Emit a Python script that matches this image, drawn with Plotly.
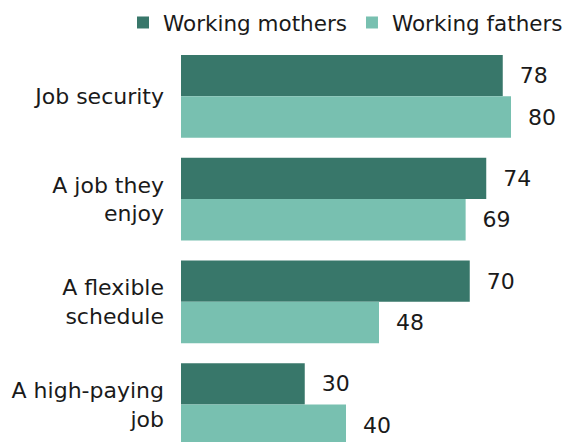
import plotly.graph_objects as go

categories = ["Job security", "A job they<br>enjoy", "A flexible<br>schedule", "A high-paying<br>job"]
mothers = [78, 74, 70, 30]
fathers = [80, 69, 48, 40]

DARK = "#38776a"
LIGHT = "#78c0b0"
FONT = "DejaVu Sans"
TXT = "#1a1a1a"
SIZE = 22

fig = go.Figure()
for name, vals, col in [("Working mothers", mothers, DARK), ("Working fathers", fathers, LIGHT)]:
    fig.add_trace(go.Bar(
        y=categories, x=vals, name=name, orientation="h",
        marker=dict(color=col, line=dict(width=0)),
        text=vals, texttemplate="  %{x}", textposition="outside",
        textfont=dict(family=FONT, size=SIZE, color=TXT), cliponaxis=False,
    ))

fig.update_layout(
    width=565, height=442,
    margin=dict(l=181, r=0, t=45, b=0, autoexpand=False),
    paper_bgcolor="white", plot_bgcolor="white",
    barmode="group", bargap=0.194, bargroupgap=0,
    font=dict(family=FONT, size=SIZE, color=TXT),
    showlegend=True,
    legend=dict(orientation="h", x=-0.151, xanchor="left", y=1.005, yanchor="bottom",
                font=dict(family=FONT, size=21.5, color=TXT),
                itemwidth=30, traceorder="normal"),
)
fig.update_xaxes(range=[0, 384 / 4.125], visible=False, showgrid=False, zeroline=False)
fig.update_yaxes(
    range=[3.5 - 14 / 103, -0.5], showgrid=False, zeroline=False, showline=False,
    ticks="", ticklabelstandoff=16, tickfont=dict(family=FONT, size=SIZE, color=TXT),
)

fig.write_html("out.html")
